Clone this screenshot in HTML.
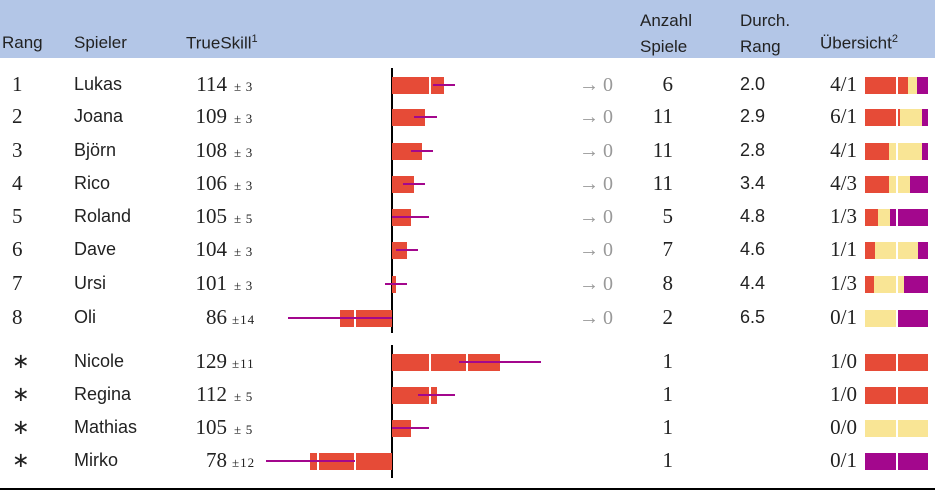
<!DOCTYPE html>
<html><head><meta charset="utf-8"><style>
body{margin:0;width:935px;height:492px;background:#fff;position:relative;overflow:hidden;font-family:"Liberation Sans",sans-serif;color:#222}
.hd{position:absolute;left:0;top:0;width:935px;height:58px;background:#b3c6e7}
.t{position:absolute;white-space:nowrap;line-height:1}
.s{font-family:"Liberation Serif",serif}
.b{position:absolute;height:17px;background:#e64b37}
.e{position:absolute;height:2px;background:#a3078d}
.o{position:absolute;height:17px}
</style></head><body>
<div class="hd"></div>
<div class="t" style="left:2px;top:34px;font-size:17px">Rang</div>
<div class="t" style="left:74px;top:34px;font-size:17px">Spieler</div>
<div class="t" style="left:186px;top:34px;font-size:17px">TrueSkill<sup style="font-size:11px">1</sup></div>
<div class="t" style="left:640px;top:8px;font-size:17px;line-height:26px">Anzahl<br>Spiele</div>
<div class="t" style="left:740px;top:8px;font-size:17px;line-height:26px">Durch.<br>Rang</div>
<div class="t" style="left:820px;top:34px;font-size:17px">Übersicht<sup style="font-size:11px">2</sup></div>
<div style="position:absolute;left:391px;top:68px;width:2px;height:265px;background:#000"></div>
<div style="position:absolute;left:391px;top:345px;width:2px;height:133px;background:#000"></div>
<div style="position:absolute;left:0;top:488px;width:935px;height:2px;background:#000"></div>
<div id="rows"></div>
<script>
const rows=[
["1","Lukas",114,3,true,"6","2.0","4/1",[[908,"r"],[917,"y"],[928,"p"]],85],
["2","Joana",109,3,true,"11","2.9","6/1",[[900,"r"],[922,"y"],[928,"p"]],117],
["3","Björn",108,3,true,"11","2.8","4/1",[[889,"r"],[922,"y"],[928,"p"]],151],
["4","Rico",106,3,true,"11","3.4","4/3",[[889,"r"],[910,"y"],[928,"p"]],184],
["5","Roland",105,5,true,"5","4.8","1/3",[[878,"r"],[890,"y"],[928,"p"]],217],
["6","Dave",104,3,true,"7","4.6","1/1",[[875,"r"],[918,"y"],[928,"p"]],250],
["7","Ursi",101,3,true,"8","4.4","1/3",[[874,"r"],[904,"y"],[928,"p"]],284],
["8","Oli",86,14,true,"2","6.5","0/1",[[896,"y"],[928,"p"]],318],
["∗","Nicole",129,11,false,"1","","1/0",[[928,"r"]],362],
["∗","Regina",112,5,false,"1","","1/0",[[928,"r"]],395],
["∗","Mathias",105,5,false,"1","","0/0",[[928,"y"]],428],
["∗","Mirko",78,12,false,"1","","0/1",[[928,"p"]],461]];
const col={r:"#e64b37",y:"#f9e595",p:"#a3078d"};
const k=3.72,ax=392;let h="";
for(const r of rows){const [rk,n,v,sd,ar,g,d,ov,segs,y]=r;const ty=y-11;
h+=`<div class="t s" style="left:12px;top:${ty}px;font-size:21px">${rk}</div>`;
h+=`<div class="t" style="left:74px;top:${ty+1}px;font-size:18px">${n}</div>`;
h+=`<div class="t s" style="right:${935-227}px;top:${ty}px;font-size:21px">${v}</div>`;
h+=`<div class="t s" style="left:${sd>=10?232:234}px;top:${ty+6}px;font-size:13px;letter-spacing:1px">±${sd>=10?sd:'&thinsp;'+sd}</div>`;
const x2=ax+(v-100)*k;const l=Math.min(ax,x2),w=Math.abs(x2-ax);
h+=`<div class="b" style="left:${l}px;top:${y-8}px;width:${w}px"></div>`;
for(let t=-30;t<=30;t+=10){if(t==0)continue;const xx=ax+t*k;if(xx>l+1&&xx<l+w-1)h+=`<div style="position:absolute;left:${xx-0.5}px;top:${y-8}px;width:2px;height:17px;background:#fff"></div>`}
h+=`<div class="e" style="left:${x2-sd*k}px;top:${y-1}px;width:${2*sd*k}px"></div>`;
if(ar)h+=`<div class="t s" style="left:579px;top:${ty+1}px;font-size:20px;color:#999">→&thinsp;0</div>`;
h+=`<div class="t s" style="right:${935-673}px;top:${ty}px;font-size:21px">${g}</div>`;
if(d)h+=`<div class="t" style="left:740px;top:${ty+1}px;font-size:18px">${d}</div>`;
h+=`<div class="t s" style="right:${935-857}px;top:${ty}px;font-size:21px">${ov}</div>`;
let px=865;for(const [e,c] of segs){h+=`<div class="o" style="left:${px}px;top:${y-8}px;width:${e-px}px;background:${col[c]}"></div>`;px=e}
h+=`<div style="position:absolute;left:896px;top:${y-8}px;width:1.5px;height:17px;background:#fff"></div>`;
}
document.getElementById("rows").innerHTML=h;
</script>
</body></html>
